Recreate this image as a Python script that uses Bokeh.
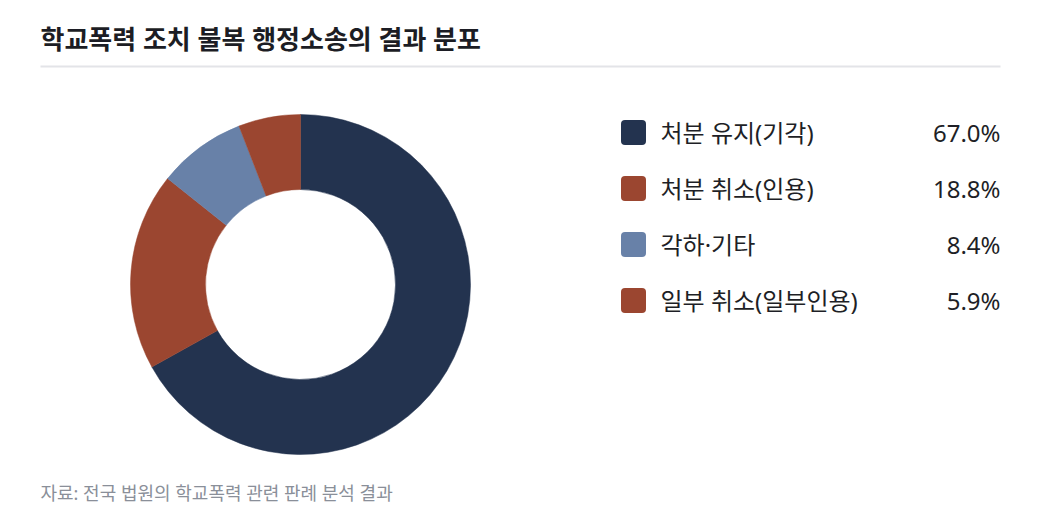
import math
from bokeh.plotting import figure
from bokeh.models import Range1d, ColumnDataSource
from bokeh.core.properties import value
from bokeh.embed import file_html
from bokeh.resources import INLINE

title = "학교폭력 조치 불복 행정소송의 결과 분포"
source_note = "자료: 전국 법원의 학교폭력 관련 판례 분석 결과"
categories = ["처분 유지(기각)", "처분 취소(인용)", "각하·기타", "일부 취소(일부인용)"]
shares = [67.0, 18.8, 8.4, 5.9]
colors = ["#23334f", "#9b4630", "#6881a8", "#9b4630"]

FONT = value("'Noto Sans', 'Noto Sans CJK KR'")
W, H = 1024, 509

p = figure(width=W, height=H, output_backend="svg", toolbar_location=None,
           x_range=Range1d(0, W), y_range=Range1d(525 - H, 525),
           min_border=0, outline_line_color=None)
p.axis.visible = False
p.grid.visible = False
p.background_fill_color = "white"
p.border_fill_color = "white"

def py(page_y):
    return 525 - page_y

# donut
total = sum(shares)
starts, ends = [], []
cum = 0.0
for v in shares:
    a0 = math.pi / 2 - 2 * math.pi * cum / total
    cum += v
    a1 = math.pi / 2 - 2 * math.pi * cum / total
    starts.append(a1)
    ends.append(a0)
src = ColumnDataSource(dict(start=starts, end=ends, color=colors,
                            x=[300] * len(shares), y=[py(284)] * len(shares)))
p.annular_wedge(x="x", y="y", inner_radius=95, outer_radius=170,
                inner_radius_units="screen", outer_radius_units="screen",
                start_angle="start", end_angle="end", direction="anticlock",
                fill_color="color", line_color="color", line_width=0.5, source=src)

# title and rule
p.text(x=[40], y=[py(38)], text=[title], text_font=FONT, text_font_size="26px",
       text_font_style="bold", text_color="#1c1d24", text_baseline="middle")
p.segment(x0=[40], y0=[py(66)], x1=[1000], y1=[py(66)], line_color="#e3e4e8", line_width=2)

# legend
rows_y = [py(132 + 56 * i) for i in range(len(categories))]
p.rect(x=[633] * len(categories), y=rows_y, width=25, height=25,
       width_units="screen", height_units="screen", fill_color=colors,
       line_color=None, border_radius=4)
p.text(x=[660] * len(categories), y=rows_y, text=categories, text_font=FONT,
       text_font_size="24px", text_color="#1e1f26", text_baseline="middle")
p.text(x=[1000] * len(categories), y=rows_y, text=[f"{v:.1f}%" for v in shares],
       text_font=FONT, text_font_size="24px", text_color="#1e1f26",
       text_baseline="middle", text_align="right")

# source note
p.text(x=[40], y=[py(492)], text=[source_note], text_font=FONT, text_font_size="18px",
       text_color="#8a8f99", text_baseline="middle")

open("out.html", "w").write(file_html(p, INLINE))
